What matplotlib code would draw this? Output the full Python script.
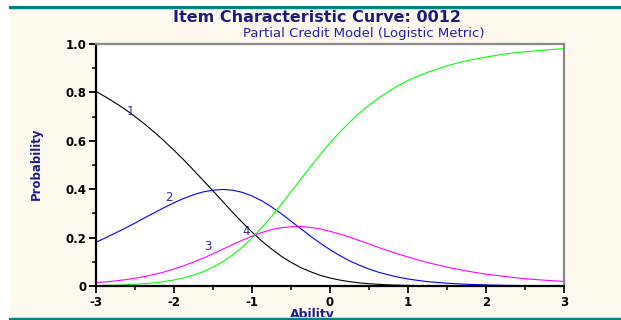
import matplotlib
matplotlib.use("Agg")
import matplotlib.pyplot as plt
from matplotlib.patches import Rectangle
from matplotlib.lines import Line2D
from matplotlib.ticker import MultipleLocator, FixedLocator

# ---- data ----
ability = [-3.000, -2.875, -2.750, -2.625, -2.500, -2.375, -2.250, -2.125,
           -2.000, -1.875, -1.750, -1.625, -1.500, -1.375, -1.250, -1.125,
           -1.000, -0.875, -0.750, -0.625, -0.500, -0.375, -0.250, -0.125,
           0.000, 0.125, 0.250, 0.375, 0.500, 0.625, 0.750, 0.875,
           1.000, 1.125, 1.250, 1.500, 1.750, 2.000, 2.250, 2.500, 2.750, 3.000]
cat1 = [0.804, 0.781, 0.756, 0.730, 0.700, 0.669, 0.635, 0.599,
        0.561, 0.521, 0.479, 0.436, 0.393, 0.349, 0.305, 0.263,
        0.223, 0.186, 0.153, 0.123, 0.098, 0.076, 0.059, 0.044,
        0.033, 0.0245, 0.018, 0.013, 0.0094, 0.0067, 0.0048, 0.0034,
        0.0024, 0.0017, 0.0012, 0.0006, 0.0003, 0.0001, 0.0001, 0.0000, 0.0000, 0.0000]
cat2 = [0.181, 0.1995, 0.219, 0.239, 0.260, 0.282, 0.303, 0.324,
        0.344, 0.362, 0.377, 0.389, 0.396, 0.399, 0.396, 0.387,
        0.372, 0.352, 0.327, 0.299, 0.268, 0.237, 0.206, 0.177,
        0.150, 0.126, 0.104, 0.086, 0.070, 0.0566, 0.046, 0.0366,
        0.029, 0.0232, 0.018, 0.0115, 0.0071, 0.0044, 0.0027, 0.0017, 0.0010, 0.0006]
cat3 = [0.014, 0.017, 0.021, 0.026, 0.032, 0.039, 0.048, 0.058,
        0.070, 0.0836, 0.099, 0.115, 0.133, 0.152, 0.171, 0.189,
        0.206, 0.221, 0.233, 0.241, 0.245, 0.246, 0.242, 0.236,
        0.226, 0.215, 0.202, 0.188, 0.174, 0.159, 0.145, 0.132,
        0.120, 0.108, 0.097, 0.078, 0.062, 0.049, 0.039, 0.030, 0.024, 0.019]
cat4 = [0.002, 0.0025, 0.0035, 0.0049, 0.0069, 0.0096, 0.013, 0.018,
        0.025, 0.0335, 0.045, 0.059, 0.078, 0.100, 0.128, 0.1605,
        0.198, 0.241, 0.287, 0.337, 0.389, 0.441, 0.493, 0.543,
        0.591, 0.635, 0.676, 0.714, 0.747, 0.777, 0.804, 0.828,
        0.849, 0.867, 0.883, 0.910, 0.931, 0.946, 0.959, 0.968, 0.975, 0.981]
series = [cat1, cat2, cat3, cat4]
series_colors = ["#000000", "#0000FF", "#FF00FF", "#00FF00"]
curve_labels = ["1", "2", "3", "4"]
label_pos = [(-2.56, 0.72), (-2.07, 0.367), (-1.57, 0.165), (-1.07, 0.224)]

x_ticks = [-3, -2, -1, 0, 1, 2, 3]
x_ticklabels = ["-3", "-2", "-1", "0", "1", "2", "3"]
y_ticks = [0, 0.2, 0.4, 0.6, 0.8, 1.0]
y_ticklabels = ["0", "0.2", "0.4", "0.6", "0.8", "1.0"]

title = "Item Characteristic Curve: 0012"
subtitle = "Partial Credit Model (Logistic Metric)"
xlabel = "Ability"
ylabel = "Probability"

W, H = 621, 320
fig = plt.figure(figsize=(W / 100, H / 100), dpi=100, facecolor="white")

# cream panel and teal rules
fig.patches.append(Rectangle((10 / W, 0), 1 - 10 / W, 1 - 9 / H, transform=fig.transFigure,
                             facecolor="#FEF9EE", edgecolor="none", zorder=-5))
for yy, col, lw in [(7 / H, "#008080", 2.2), (9 / H, "#B8E0E0", 0.8),
                    (319 / H, "#008080", 2.2), (316.5 / H, "#B8E0E0", 0.8)]:
    fig.lines.append(Line2D([10 / W, 1], [1 - yy, 1 - yy], transform=fig.transFigure,
                            color=col, lw=lw, zorder=10))

ax = fig.add_axes([96 / W, 1 - 286 / H, (564 - 96) / W, (286 - 44) / H])
ax.set_zorder(1)
ax.set_facecolor("white")
for s, c in zip(series, series_colors):
    ax.plot(ability, s, color=c, lw=0.8)
for t, (lx, ly) in zip(curve_labels, label_pos):
    ax.text(lx, ly, t, color="#2E2E8A", fontsize=8.5, ha="center", va="center")

ax.set_xlim(-3, 3)
ax.set_ylim(0, 1)
ax.xaxis.set_major_locator(FixedLocator(x_ticks))
ax.set_xticklabels(x_ticklabels)
ax.yaxis.set_major_locator(FixedLocator(y_ticks))
ax.set_yticklabels(y_ticklabels)
ax.xaxis.set_minor_locator(MultipleLocator(0.5))
ax.yaxis.set_minor_locator(MultipleLocator(0.1))
ax.tick_params(which="major", direction="out", length=5, width=1.3, color="black",
               labelsize=8.5, pad=2)
ax.tick_params(which="minor", direction="out", length=3, width=1.1, color="black")
for lab in ax.get_xticklabels() + ax.get_yticklabels():
    lab.set_fontweight("heavy")

for sp in ["left", "bottom"]:
    ax.spines[sp].set_color("black")
    ax.spines[sp].set_linewidth(1.6)
for sp in ["top", "right"]:
    ax.spines[sp].set_color("#8A8A8A")
    ax.spines[sp].set_linewidth(1.6)

fig.text(317 / W, 1 - 18 / H, title, ha="center", va="center", fontsize=11.5,
         fontweight="heavy", color="#1C1C7C")
fig.text(364 / W, 1 - 33 / H, subtitle, ha="center", va="center", fontsize=9.5,
         color="#2020A0")
fig.text(312 / W, 1 - 314.5 / H, xlabel, ha="center", va="center", fontsize=9,
         fontweight="bold", color="#1C1C8C", zorder=5)
fig.text(36 / W, 1 - 164 / H, ylabel, ha="center", va="center", rotation=90,
         fontsize=8.5, fontweight="bold", color="#1C1C8C")

fig.savefig("out.png", dpi=100, facecolor=fig.get_facecolor())
